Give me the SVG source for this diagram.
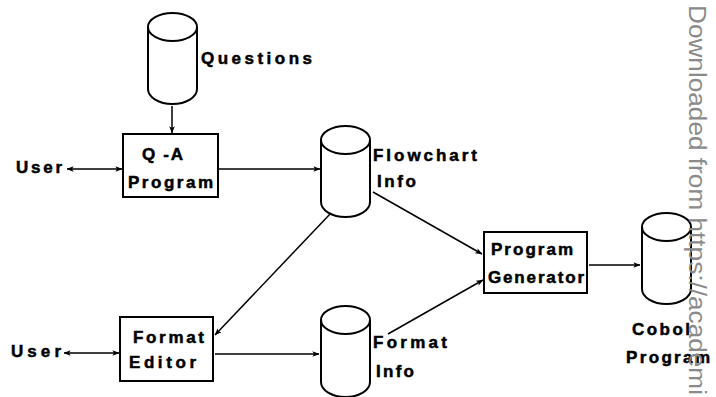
<svg xmlns="http://www.w3.org/2000/svg" width="716" height="397" viewBox="0 0 716 397">
  <defs>
    <style>
      .shape { fill: #fff; stroke: #000; stroke-width: 2; }
      .cyl { fill: none; stroke: #000; stroke-width: 2; stroke-linejoin: round; }
      .edge { fill: none; stroke: #000; stroke-width: 1.5; }
      .lbl { font-family: "Liberation Sans", Arial, sans-serif; font-weight: bold; font-size: 17px; fill: #000; stroke: #000; stroke-width: 0.5; }
      .mark { font-family: "Liberation Sans", Arial, sans-serif; font-size: 23px; fill: #8a8a8a; }
    </style>
    <marker id="head" viewBox="0 0 10 8" refX="9.5" refY="4" markerWidth="7" markerHeight="6" markerUnits="userSpaceOnUse" orient="auto-start-reverse">
      <path d="M0,0 L10,4 L0,8 L2.5,4 Z" fill="#000"/>
    </marker>
    <!-- cylinder outline of width 49, height 91, origin at top-left -->
    <path id="cylinder" d="M0,14 A24.5,14 0 0 1 49,14 A24.5,14 0 0 1 0,14 Z M0,14 L0,76 A24.5,15 0 0 0 49,76 L49,14"/>
  </defs>

  <rect width="716" height="397" fill="#fff"/>

  <!-- connectors -->
  <g id="connectors">
    <line class="edge" x1="172" y1="106" x2="172" y2="133" marker-end="url(#head)"/>
    <line class="edge" x1="67" y1="169" x2="122" y2="169" marker-start="url(#head)" marker-end="url(#head)"/>
    <line class="edge" x1="219" y1="169" x2="320" y2="169" marker-end="url(#head)"/>
    <line class="edge" x1="373" y1="192" x2="482" y2="254" marker-end="url(#head)"/>
    <line class="edge" x1="331" y1="213" x2="215" y2="335" marker-end="url(#head)"/>
    <line class="edge" x1="64" y1="353" x2="119" y2="353" marker-start="url(#head)" marker-end="url(#head)"/>
    <line class="edge" x1="215" y1="354" x2="319" y2="354" marker-end="url(#head)"/>
    <line class="edge" x1="388" y1="334" x2="483" y2="280" marker-end="url(#head)"/>
    <line class="edge" x1="589" y1="265" x2="640" y2="265" marker-end="url(#head)"/>
  </g>

  <!-- data stores -->
  <g id="questions">
    <use href="#cylinder" class="cyl" x="148" y="13"/>
    <text class="lbl" x="201" y="64" textLength="111" lengthAdjust="spacing">Questions</text>
  </g>
  <g id="flowchart-info">
    <use href="#cylinder" class="cyl" x="321" y="126"/>
    <text class="lbl" x="373" y="161" textLength="104" lengthAdjust="spacing">Flowchart</text>
    <text class="lbl" x="377" y="187" textLength="39" lengthAdjust="spacing">Info</text>
  </g>
  <g id="format-info">
    <use href="#cylinder" class="cyl" x="321" y="306"/>
    <text class="lbl" x="373" y="348" textLength="74" lengthAdjust="spacing">Format</text>
    <text class="lbl" x="376" y="377" textLength="38" lengthAdjust="spacing">Info</text>
  </g>
  <g id="cobol-program">
    <use href="#cylinder" class="cyl" x="642" y="213"/>
    <text class="lbl" x="632" y="335" textLength="58" lengthAdjust="spacing">Cobol</text>
    <text class="lbl" x="626" y="363" textLength="84" lengthAdjust="spacing">Program</text>
  </g>

  <!-- processes -->
  <g id="qa-program">
    <rect class="shape" x="123" y="134" width="95" height="63"/>
    <text class="lbl" x="142" y="160" textLength="41" lengthAdjust="spacing">Q -A</text>
    <text class="lbl" x="128" y="188" textLength="85" lengthAdjust="spacing">Program</text>
  </g>
  <g id="format-editor">
    <rect class="shape" x="120" y="317" width="93" height="64"/>
    <text class="lbl" x="133" y="343" textLength="71" lengthAdjust="spacing">Format</text>
    <text class="lbl" x="129" y="368" textLength="67" lengthAdjust="spacing">Editor</text>
  </g>
  <g id="program-generator">
    <rect class="shape" x="484" y="232" width="103" height="61"/>
    <text class="lbl" x="491" y="255" textLength="82" lengthAdjust="spacing">Program</text>
    <text class="lbl" x="488" y="283" textLength="96" lengthAdjust="spacing">Generator</text>
  </g>

  <!-- external user -->
  <g id="user-top">
    <text class="lbl" x="16" y="173" textLength="46" lengthAdjust="spacing">User</text>
  </g>
  <g id="user-bottom">
    <text class="lbl" x="11" y="357" textLength="50" lengthAdjust="spacing">User</text>
  </g>

  <!-- vertical margin note -->
  <text class="mark" transform="translate(689,5) rotate(90)" x="0" y="0" textLength="390" lengthAdjust="spacingAndGlyphs">Downloaded from https://academi</text>
</svg>
